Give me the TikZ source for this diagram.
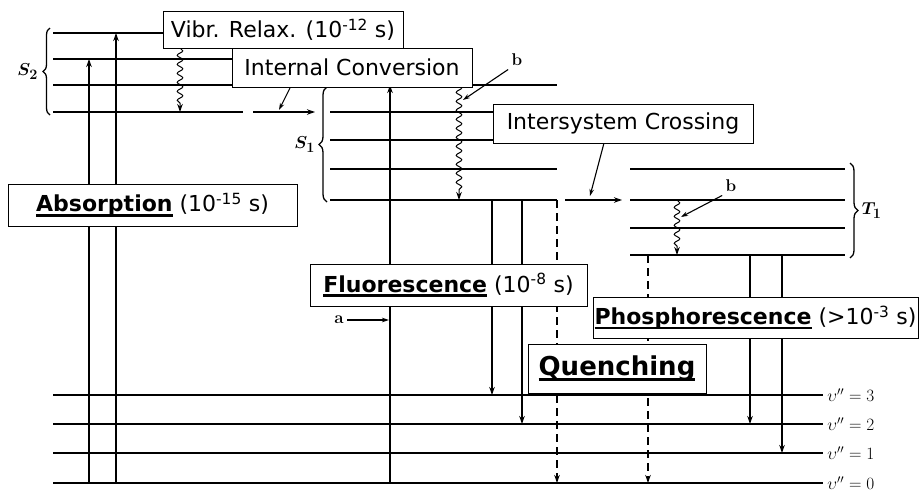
\documentclass[tikz,border=0pt]{standalone}
\usepackage{amsmath}
\usepackage{fontspec}
\newfontfamily\boxfont{DejaVu Sans}
\usetikzlibrary{arrows.meta,decorations.pathmorphing,decorations.pathreplacing}

\newcommand{\ulbf}[1]{\setbox0=\hbox{\bfseries #1}\rlap{\rule[-0.22em]{\wd0}{0.12em}}\box0\relax}

\begin{document}
\begin{tikzpicture}[x=1pt,y=-1pt,>={Stealth[length=8pt,width=5.5pt]},
  level/.style={line width=2.2pt},
  trans/.style={->,line width=1.1pt},
  nonrad/.style={->,line width=1.1pt,dash pattern=on 8pt off 5pt},
  wavy/.style={->,line width=1pt,decorate,decoration={snake,amplitude=2.8pt,segment length=9pt,post length=8pt}},
  point/.style={-{Stealth[length=7pt,width=4.5pt]},line width=1.1pt},
  curly/.style={line width=1.3pt,decorate,decoration={brace,amplitude=#1}},
  tag/.style={draw,line width=0.8pt,fill=white,inner sep=0pt,font=\boxfont\fontsize{22}{26}\selectfont},
  lab/.style={font=\fontsize{17}{20}\selectfont},
  state/.style={font=\fontsize{19}{22}\selectfont\boldmath}]
\useasboundingbox (0,0) rectangle (922,491);
\fill[white] (0,0) rectangle (922,491);
% energy levels
\foreach \y [count=\i] in {33,59,85,112} {\draw[level] (53,\y) coordinate (s2-\i) -- (243,\y);}
\foreach \y [count=\i] in {85,112,140,169,200} {\draw[level] (330,\y) coordinate (s1-\i) -- (557,\y);}
\foreach \y [count=\i] in {169,200,228,255} {\draw[level] (630,\y) coordinate (t1-\i) -- (845,\y);}
\foreach \y/\v in {395/3,424/2,453/1,483/0} {\draw[level] (53,\y) coordinate (g\v) -- (823,\y) node[lab,right] (v\v) {$\upsilon''=\v$};}
\draw[curly=7pt] (50,115) -- (50,28) node[midway,left=8pt,state] (S2) {$S_2$};
\draw[curly=8pt] (327,202) -- (327,87) node[midway,left=8pt,state] (S1) {$S_1$};
\draw[curly=8pt] (850,163) -- (850,258) node[midway,right=8pt,state] (T1) {$T_1$};
% transitions
\draw[trans] (89,0 |- g0) -- (89,0 |- s2-2);
\draw[trans] (116,0 |- g0) -- (116,0 |- s2-1);
\draw[trans] (390,0 |- g0) -- (390,0 |- s1-1);
\draw[trans] (253,0 |- s2-4) -- (315,0 |- s2-4);
\draw[trans] (565,0 |- s1-5) -- (622,0 |- s1-5);
\draw[wavy] (180,48) -- (180,0 |- s2-4);
\draw[wavy] (459,0 |- s1-1) -- (459,0 |- s1-5);
\draw[wavy] (677,0 |- t1-2) -- (677,0 |- t1-4);
\draw[trans] (492,0 |- s1-5) -- (492,0 |- g3);
\draw[trans] (522,0 |- s1-5) -- (522,0 |- g2);
\draw[nonrad] (557,0 |- s1-5) -- (557,0 |- g0);
\draw[nonrad] (648,0 |- t1-4) -- (648,0 |- g0);
\draw[trans] (750,0 |- t1-4) -- (750,0 |- g2);
\draw[trans] (782,0 |- t1-4) -- (782,0 |- g1);
% pointers
\node[lab] (a) at (339,320) {\textbf{a}};
\draw[point] (a.east) -- (389,320);
\node[lab] (b1) at (517,60) {\textbf{b}};
\draw[point] (b1.south west) -- (463,100);
\node[lab] (b2) at (731,186) {\textbf{b}};
\draw[point] (b2.south west) -- (681,217);
\draw[point] (290,88) -- (279,110);
\draw[point] (604,143) -- (590,196);
% boxes
\node[tag,minimum width=240pt,minimum height=37pt] (vibr) at (283,29.5) {Vibr. Relax. (10\textsuperscript{-12} s)};
\node[tag,minimum width=240pt,minimum height=39pt] (ic) at (352,67.5) {Internal Conversion};
\node[tag,minimum width=260pt,minimum height=39pt] (isc) at (623,123.5) {Intersystem Crossing};
\node[tag,minimum width=289pt,minimum height=42pt] (abs) at (152.5,205) {\ulbf{Absorption} (10\textsuperscript{-15} s)};
\node[tag,minimum width=277pt,minimum height=42pt] (fluo) at (448.5,285) {\ulbf{Fluorescence} (10\textsuperscript{-8} s)};
\node[tag,minimum width=325pt,minimum height=41pt] (phos) at (755.5,317.5) {\ulbf{Phosphorescence} (>10\textsuperscript{-3} s)};
\node[tag,minimum width=178pt,minimum height=49pt,font=\boxfont\fontsize{26}{30}\selectfont] (quench) at (617,368.5) {\ulbf{Quenching}};
\end{tikzpicture}
\end{document}
